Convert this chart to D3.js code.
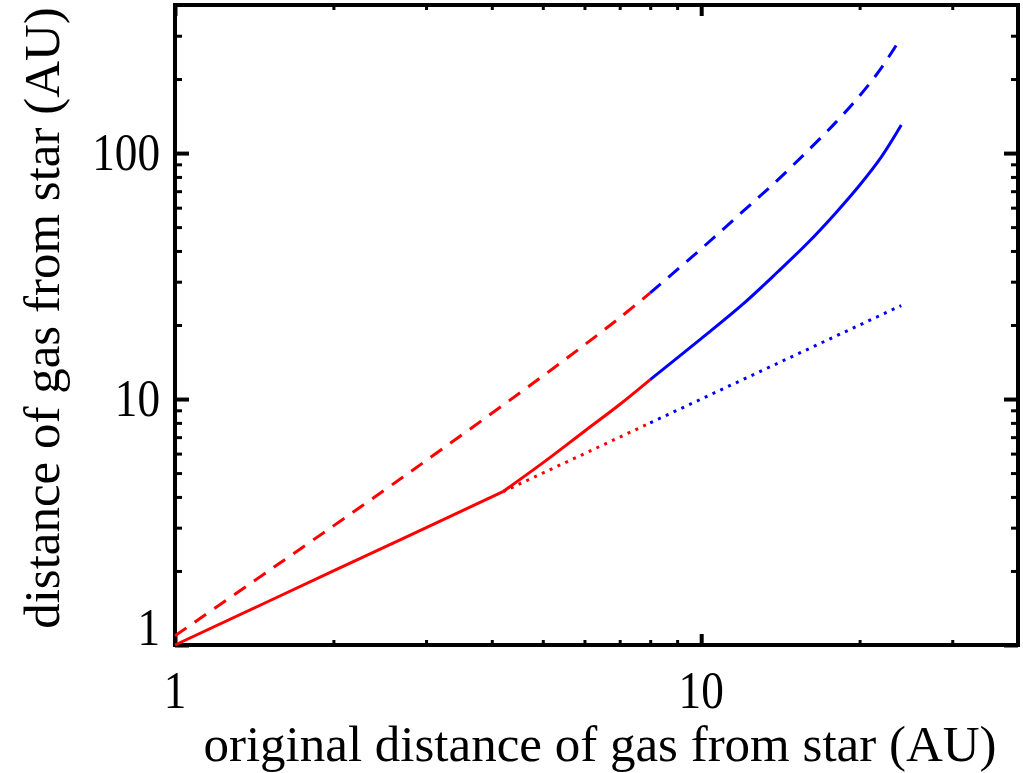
<!DOCTYPE html>
<html>
<head>
<meta charset="utf-8">
<script src="https://cdn.jsdelivr.net/npm/d3@7"></script>
<style>
  html, body { margin: 0; padding: 0; background: #fff; overflow: hidden; }
  svg { display: block; }
  text { font-family: "Liberation Serif", "DejaVu Serif", serif; fill: #000; }
</style>
</head>
<body>
<div class="canvas"></div>
<script>
// red part (inner disc, x <= 8 AU)
const redX       = [1, 1.5, 2, 2.5, 3, 4, 5, 6, 7, 8];
const redDashed  = [1.09, 1.99, 3.05, 4.26, 5.62, 8.75, 12.4, 16.6, 21.4, 27];
const redSolidX  = [1, 2, 4.2, 5, 6, 7, 8];
const redSolid   = [1, 2, 4.2, 5.5, 7.4, 9.5, 12.0];
const redDottedX = [4.2, 8];
const redDotted  = [4.2, 8];

// blue part (outer disc, x >= 8 AU)
const blueX      = [8, 10, 12, 14, 16, 18, 20, 22, 24];
const blueDashed = [27, 40.8, 57.9, 78, 103, 133, 171, 222, 296];
const blueSolid  = [12.0, 17.6, 24.3, 33, 43.5, 57, 74, 96.5, 130];
const blueDottedX = [8, 24];
const blueDotted  = [8, 24];

const xTickLabels = [1, 10];
const yTickLabels = [1, 10, 100];

const width = 1023, height = 773;
const margin = { top: 5, right: 5, bottom: 128, left: 175 };
const graphWidth = width - margin.left - margin.right;
const graphHeight = height - margin.top - margin.bottom;

const svg = d3.select('.canvas').append('svg')
    .attr('width', width)
    .attr('height', height);

const graph = svg.append('g')
    .attr('transform', `translate(${margin.left}, ${margin.top})`);

const x = d3.scaleLog().domain([1, 40]).range([0, graphWidth]);
const y = d3.scaleLog().domain([1, 400]).range([graphHeight, 0]);

// minor ticks 2..9 for each decade
const minorX = [], minorY = [];
for (let d = 1; d <= 10; d *= 10) {
  for (let k = 2; k <= 9; k++) {
    if (d * k <= 40) minorX.push(d * k);
  }
}
for (let d = 1; d <= 100; d *= 10) {
  for (let k = 2; k <= 9; k++) {
    if (d * k <= 400) minorY.push(d * k);
  }
}

function tickStyle(g, w) {
  g.select('.domain').remove();
  g.selectAll('.tick line').attr('stroke', '#000').attr('stroke-width', w);
  g.selectAll('.tick text').remove();
}

// ticks: bottom / top
graph.append('g').attr('transform', `translate(0, ${graphHeight})`)
  .call(d3.axisTop(x).tickValues(xTickLabels).tickSize(11).tickFormat(''))
  .call(g => tickStyle(g, 4));
graph.append('g').attr('transform', `translate(0, ${graphHeight})`)
  .call(d3.axisTop(x).tickValues(minorX).tickSize(5).tickFormat(''))
  .call(g => tickStyle(g, 3));
graph.append('g')
  .call(d3.axisBottom(x).tickValues(xTickLabels).tickSize(11).tickFormat(''))
  .call(g => tickStyle(g, 4));
graph.append('g')
  .call(d3.axisBottom(x).tickValues(minorX).tickSize(5).tickFormat(''))
  .call(g => tickStyle(g, 3));

// ticks: left / right
graph.append('g')
  .call(d3.axisRight(y).tickValues(yTickLabels).tickSize(14).tickFormat(''))
  .call(g => tickStyle(g, 4));
graph.append('g')
  .call(d3.axisRight(y).tickValues(minorY).tickSize(7).tickFormat(''))
  .call(g => tickStyle(g, 3));
graph.append('g').attr('transform', `translate(${graphWidth}, 0)`)
  .call(d3.axisLeft(y).tickValues(yTickLabels).tickSize(14).tickFormat(''))
  .call(g => tickStyle(g, 4));
graph.append('g').attr('transform', `translate(${graphWidth}, 0)`)
  .call(d3.axisLeft(y).tickValues(minorY).tickSize(7).tickFormat(''))
  .call(g => tickStyle(g, 3));

// frame
graph.append('rect')
  .attr('x', 0).attr('y', 0)
  .attr('width', graphWidth).attr('height', graphHeight)
  .attr('fill', 'none').attr('stroke', '#000').attr('stroke-width', 4);

// tick labels (narrow, tall digits like the original)
graph.selectAll('.xlab').data(xTickLabels).enter().append('text')
  .attr('transform', d => `translate(${x(d)}, ${graphHeight + 63}) scale(0.87, 1)`)
  .attr('text-anchor', 'middle').attr('font-size', 52)
  .text(d => d);

graph.selectAll('.ylab').data(yTickLabels).enter().append('text')
  .attr('transform', d => `translate(-15, ${Math.min(y(d), graphHeight - 17) + 17}) scale(0.87, 1)`)
  .attr('text-anchor', 'end').attr('font-size', 52)
  .text(d => d);

// axis titles
svg.append('text')
  .attr('x', 600).attr('y', 761)
  .attr('text-anchor', 'middle').attr('font-size', 51)
  .text('original distance of gas from star (AU)');

svg.append('text')
  .attr('transform', `translate(59, 318) rotate(-90)`)
  .attr('text-anchor', 'middle').attr('font-size', 51)
  .text('distance of gas from star (AU)');

// curves
const plot = graph.append('g');

function drawLine(xs, ys, color, dash) {
  const line = d3.line()
    .x(d => x(d[0]))
    .y(d => y(d[1]))
    .curve(d3.curveCatmullRom.alpha(0.5));
  plot.append('path')
    .datum(xs.map((v, i) => [v, ys[i]]))
    .attr('fill', 'none')
    .attr('stroke', color)
    .attr('stroke-width', 3)
    .attr('stroke-dasharray', dash)
    .attr('d', line);
}

drawLine(redX, redDashed, '#ff0000', '14,10');
drawLine(blueX, blueDashed, '#0000ff', '14,10');
drawLine(redDottedX, redDotted, '#ff0000', '3,5.6');
drawLine(blueDottedX, blueDotted, '#0000ff', '3,5.6');
drawLine(redSolidX.slice(0, 3), redSolid.slice(0, 3), '#ff0000', null);
drawLine(redSolidX.slice(2), redSolid.slice(2), '#ff0000', null);
drawLine(blueX, blueSolid, '#0000ff', null);
</script>
</body>
</html>
